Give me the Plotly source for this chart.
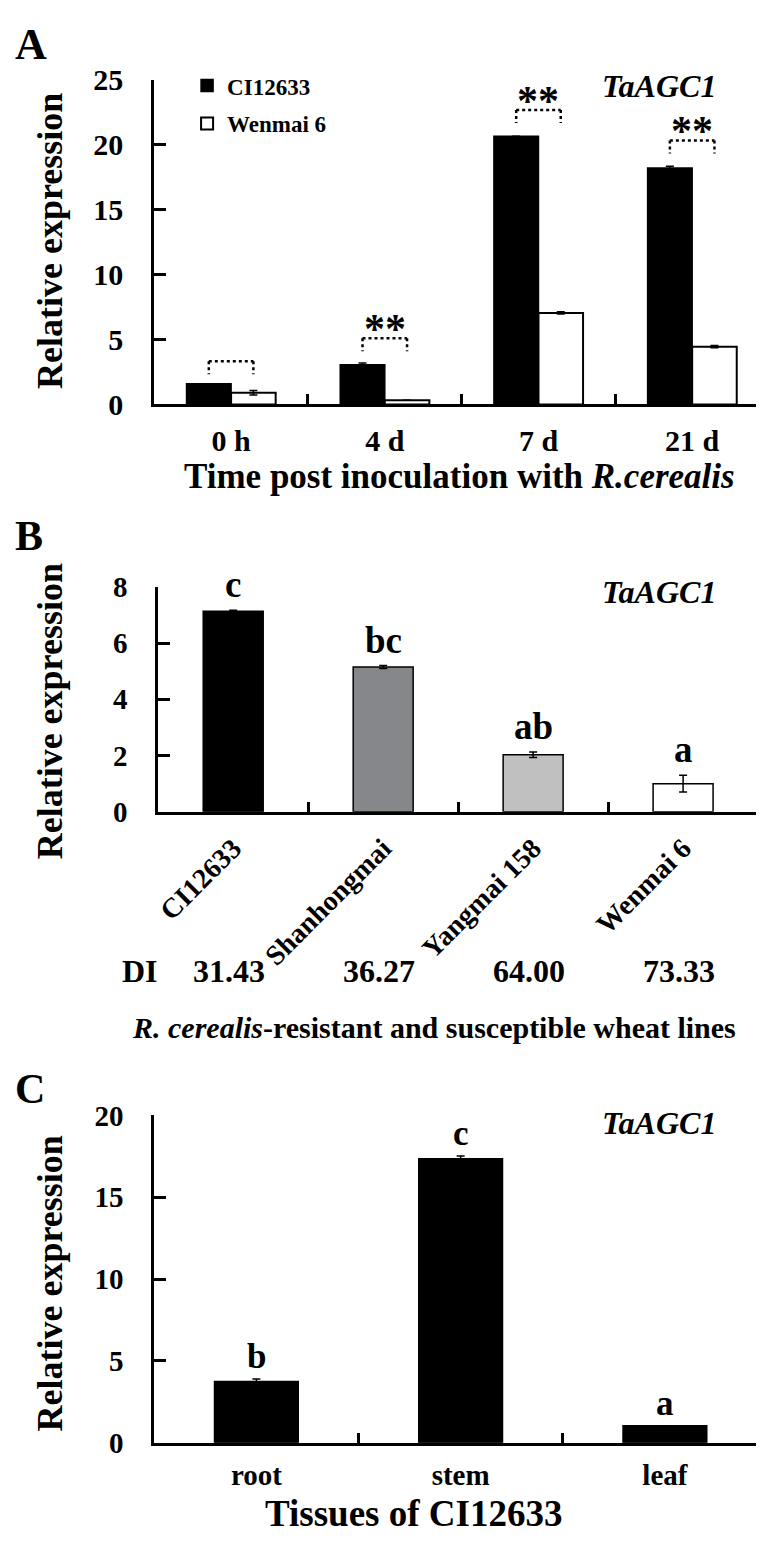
import plotly.graph_objects as go

W, H = 764, 1543
FONT = "Liberation Serif, Times New Roman, serif"

# ---------------- Panel A data ----------------
time_points = ["0 h", "4 d", "7 d", "21 d"]
ci12633_expr = [1.6, 3.05, 20.65, 18.2]
ci12633_err = [0.0, 0.15, 0.0, 0.15]
wenmai6_expr = [0.9, 0.33, 7.05, 4.45]
wenmai6_err = [0.18, 0.0, 0.08, 0.08]
sig_level = [3.33, 5.1, 22.68, 20.33]
sig_marks = ["", "**", "**", "**"]
yticks_A = [0, 5, 10, 15, 20, 25]

# ---------------- Panel B data ----------------
lines_B = ["CI12633", "Shanhongmai", "Yangmai 158", "Wenmai 6"]
expr_B = [7.13, 5.15, 2.03, 1.0]
err_B = [0.04, 0.05, 0.1, 0.3]
letters_B = ["c", "bc", "ab", "a"]
di_B = ["31.43", "36.27", "64.00", "73.33"]
colors_B = ["#000000", "#86878b", "#c0c0c0", "#ffffff"]
yticks_B = [0, 2, 4, 6, 8]

# ---------------- Panel C data ----------------
tissues = ["root", "stem", "leaf"]
expr_C = [3.75, 17.36, 1.04]
err_C = [0.15, 0.16, 0.0]
letters_C = ["b", "c", "a"]
yticks_C = [0, 5, 10, 15, 20]


def px(x):
    return x / W


def py(y):
    return 1 - y / H


def bfont(size, **kw):
    return dict(family=FONT, size=size, color="black", weight="bold", **kw)


bargap_A = 0.42

fig = go.Figure()

errstyle = dict(type="data", visible=True, color="black", thickness=1.5, width=4)

fig.add_trace(go.Bar(
    x=time_points, y=ci12633_expr, name="CI12633",
    marker=dict(color="black", line=dict(color="black", width=1.5)),
    error_y=dict(array=ci12633_err, **errstyle),
    xaxis="x", yaxis="y", legendgroup="g1", showlegend=True,
))
fig.add_trace(go.Bar(
    x=time_points, y=wenmai6_expr, name="Wenmai 6",
    marker=dict(color="white", line=dict(color="black", width=2)),
    error_y=dict(array=wenmai6_err, **errstyle),
    xaxis="x", yaxis="y", legendgroup="g2", showlegend=True,
))

fig.add_trace(go.Bar(
    x=lines_B, y=expr_B, width=0.40,
    marker=dict(color=colors_B, line=dict(color="black", width=1.5)),
    error_y=dict(array=err_B, **errstyle),
    xaxis="x2", yaxis="y2", showlegend=False,
))

fig.add_trace(go.Bar(
    x=tissues, y=expr_C, width=0.41,
    marker=dict(color="black", line=dict(color="black", width=1.5)),
    error_y=dict(array=err_C, **errstyle),
    xaxis="x3", yaxis="y3", showlegend=False,
))


def axis_common(size):
    return dict(showline=True, linewidth=3, linecolor="black", mirror=False,
                showgrid=False, zeroline=False, ticks="inside", tickwidth=3,
                tickcolor="black", tickfont=bfont(size))


fig.update_layout(
    width=W, height=H,
    margin=dict(l=0, r=0, t=0, b=0),
    paper_bgcolor="white", plot_bgcolor="white",
    font=dict(family=FONT, color="black"),
    barmode="group",
    bargap=bargap_A, bargroupgap=0,
    showlegend=True,
    legend=dict(x=px(176), y=py(40), xanchor="left", yanchor="top",
                font=bfont(23), bgcolor="rgba(0,0,0,0)",
                tracegroupgap=5, itemwidth=30),
    xaxis=dict(domain=[px(143), px(761)], anchor="y", type="category",
               tickson="boundaries", ticklen=10, ticklabelstandoff=8, **axis_common(30)),
    yaxis=dict(domain=[py(388), py(56)], anchor="x", range=[0, 25],
               tickvals=yticks_A, ticklen=12, ticklabelstandoff=22, **axis_common(30)),
    xaxis2=dict(domain=[px(147), px(750)], anchor="y2", type="category",
                tickson="boundaries", ticklen=10, tickangle=-45,
                ticklabelstandoff=6, **axis_common(28)),
    yaxis2=dict(domain=[py(804.5), py(574.5)], anchor="x2", range=[0, 8],
                tickvals=yticks_B, ticklen=12, ticklabelstandoff=22, **axis_common(29)),
    xaxis3=dict(domain=[px(143), px(759)], anchor="y3", type="category",
                tickson="boundaries", ticklen=10, ticklabelstandoff=4, **axis_common(29)),
    yaxis3=dict(domain=[py(1449.7), py(1115)], anchor="x3", range=[0, 20],
                tickvals=yticks_C, ticklen=12, ticklabelstandoff=22, **axis_common(29)),
)

# significance brackets for panel A
off = (1 - bargap_A) / 4
shapes = []
annotations = []
for i, (lvl, mark) in enumerate(zip(sig_level, sig_marks)):
    x0, x1 = i - off, i + off
    dotted = dict(color="black", width=2.5, dash="dot")
    shapes.append(dict(type="line", xref="x", yref="y", x0=x0, x1=x1, y0=lvl, y1=lvl, line=dotted))
    shapes.append(dict(type="line", xref="x", yref="y", x0=x0, x1=x0, y0=lvl, y1=lvl - 1.0, line=dotted))
    shapes.append(dict(type="line", xref="x", yref="y", x0=x1, x1=x1, y0=lvl, y1=lvl - 1.0, line=dotted))
    if mark:
        annotations.append(dict(x=i, y=lvl, xref="x", yref="y", text=mark, showarrow=False,
                                xanchor="center", yanchor="bottom", yshift=-16,
                                font=bfont(42)))

# letters above bars
for cat, v, e, t in zip(lines_B, expr_B, err_B, letters_B):
    annotations.append(dict(x=cat, y=v + e, xref="x2", yref="y2", text=t, showarrow=False,
                            xanchor="center", yanchor="bottom", yshift=3,
                            font=bfont(37)))
for cat, v, e, t in zip(tissues, expr_C, err_C, letters_C):
    annotations.append(dict(x=cat, y=v + e, xref="x3", yref="y3", text=t, showarrow=False,
                            xanchor="center", yanchor="bottom", yshift=1,
                            font=bfont(35)))

# DI row
annotations.append(dict(x=px(129), y=py(967), xref="paper", yref="paper", text="DI",
                        showarrow=False, xanchor="center", yanchor="middle",
                        font=bfont(32)))
for cat, d in zip(lines_B, di_B):
    annotations.append(dict(x=cat, y=py(967), xref="x2", yref="paper", text=d,
                            showarrow=False, xanchor="center", yanchor="middle", xshift=-4,
                            font=bfont(32)))

# gene labels
for yy in (62, 580, 1123):
    annotations.append(dict(x=px(650), y=py(yy), xref="paper", yref="paper",
                            text="TaAGC1", showarrow=False, xanchor="center", yanchor="middle",
                            font=bfont(32, style="italic")))

# panel letters
for lab, yy, sz in (("A", 20, 44), ("B", 523, 42), ("C", 1088, 42)):
    annotations.append(dict(x=px(1), y=py(yy), xref="paper", yref="paper", text=lab,
                            showarrow=False, xanchor="left", yanchor="middle",
                            font=bfont(sz)))

# y-axis titles
for yy in (221, 702, 1287):
    annotations.append(dict(x=px(38), y=py(yy), xref="paper", yref="paper",
                            text="Relative expression", textangle=-90, showarrow=False,
                            xanchor="center", yanchor="middle",
                            font=bfont(36)))

# x-axis titles
annotations.append(dict(x=px(450), y=py(462), xref="paper", yref="paper",
                        text="Time post inoculation with <i>R.cerealis</i>", showarrow=False,
                        xanchor="center", yanchor="middle", font=bfont(35)))
annotations.append(dict(x=px(424), y=py(1025), xref="paper", yref="paper",
                        text="<i>R. cerealis</i>-resistant and susceptible wheat lines",
                        showarrow=False, xanchor="center", yanchor="middle",
                        font=bfont(30)))
annotations.append(dict(x=px(404), y=py(1522), xref="paper", yref="paper",
                        text="Tissues of CI12633", showarrow=False,
                        xanchor="center", yanchor="middle", font=bfont(37)))

fig.update_layout(shapes=shapes, annotations=annotations)

fig.write_html("out.html")
